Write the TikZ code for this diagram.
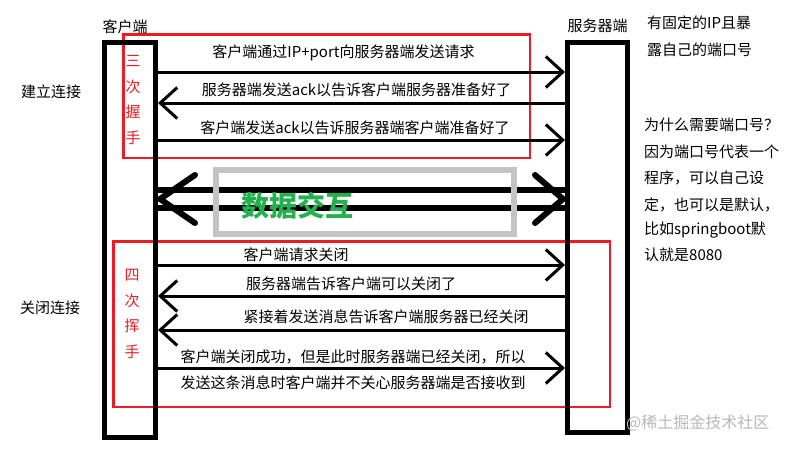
\documentclass[tikz,border=0pt]{standalone}
\usepackage{fontspec}
\setmainfont{Noto Sans CJK SC}
\usetikzlibrary{arrows.meta,calc}
\definecolor{pred}{RGB}{237,28,36}
\definecolor{pgreen}{RGB}{34,177,76}
\definecolor{pgray}{RGB}{195,195,195}
\begin{document}
\begin{tikzpicture}[x=1pt,y=-1pt,
  every node/.style={inner sep=0pt, font=\fontsize{15}{18}\selectfont},
  hostbox/.style={draw=black, line width=5pt},
  redbox/.style={draw=pred, line width=2.5pt},
  msg/.style={line width=3pt, -{Straight Barb[length=17pt,width=31pt]}},
  redtxt/.style={text=pred, align=center, font=\fontsize{15}{25.5}\selectfont},
  fat/.style={line width=6pt},
  chev/.style={line width=6pt, line cap=round, line join=round},
  side/.style={anchor=west},
  wm/.style={text=black!28, font=\fontsize{16}{18}\selectfont}
]
\fill[white] (0,0) rectangle (790,450);
\useasboundingbox (0,0) rectangle (790,450);

% red frames
\node[redbox, minimum width=406.5pt, minimum height=123.5pt] (r1) at (326.5,96) {};
\node[redbox, minimum width=496.5pt, minimum height=165.5pt] (r2) at (361.5,324) {};

% hosts
\node[hostbox, minimum width=51pt, minimum height=395pt] (c) at (130,240) {};
\node[hostbox, minimum width=60pt, minimum height=390pt] (s) at (597.5,237.5) {};
\node (ct) at (125,27) {客户端};
\node (st) at (597.5,26) {服务器端};

% message levels
\coordinate (a1) at (0,72);
\coordinate (a2) at (0,103);
\coordinate (a3) at (0,140);
\coordinate (b1) at (0,265);
\coordinate (b2) at (0,296);
\coordinate (b3) at (0,330);
\coordinate (b4) at (0,368);
\coordinate (d1) at (0,190);
\coordinate (d2) at (0,208);
\coordinate (dm) at (0,199);

% three-way handshake
\draw[msg] (c.east |- a1) -- (s.west |- a1);
\draw[msg] (s.west |- a2) -- (c.east |- a2);
\draw[msg] (c.east |- a3) -- (s.west |- a3);
\node (t1) at (343.5,53) {客户端通过IP+port向服务器端发送请求};
\node (t2) at (356.5,90) {服务器端发送ack以告诉客户端服务器准备好了};
\node (t3) at (355,128) {客户端发送ack以告诉服务器端客户端准备好了};
\node[redtxt] (h3) at (133,100) {三\\次\\握\\手};

% data exchange
\draw[fat] (c.east |- d1) -- (s.west |- d1);
\draw[fat] (c.east |- d2) -- (s.west |- d2);
\draw[chev] (c.east |- dm) ++(37,-24) -- ($(c.east |- dm)+(2,0)$) -- ++(35,24);
\draw[chev] (s.west |- dm) ++(-30,-24) -- ($(s.west |- dm)+(-2,0)$) -- ++(-28,24);
\node[draw=pgray, line width=6pt, minimum width=298pt, minimum height=64pt] (g) at (365,202) {};
\node[text=pgreen, font=\fontsize{28}{30}\selectfont\bfseries] (dx) at (297,206) {数据交互};

% four-way handshake
\draw[msg] (c.east |- b1) -- (s.west |- b1);
\draw[msg] (s.west |- b2) -- (c.east |- b2);
\draw[msg] (s.west |- b3) -- (c.east |- b3);
\draw[msg] (c.east |- b4) -- (s.west |- b4);
\node (u1) at (296,255) {客户端请求关闭};
\node (u2) at (351,284) {服务器端告诉客户端可以关闭了};
\node (u3) at (386,317) {紧接着发送消息告诉客户端服务器已经关闭};
\node (u4) at (353,357) {客户端关闭成功，但是此时服务器端已经关闭，所以};
\node (u5) at (353,383) {发送这条消息时客户端并不关心服务器端是否接收到};
\node[redtxt] (h4) at (132,314) {四\\次\\挥\\手};

% left labels
\node (l1) at (51,92) {建立连接};
\node (l2) at (50,308) {关闭连接};

% right notes
\node[side] (n1) at (647,23) {有固定的IP且暴};
\node[side] (n2) at (647,50) {露自己的端口号};
\node[side] (q1) at (644,125) {为什么需要端口号？};
\node[side] (q2) at (644,152) {因为端口号代表一个};
\node[side] (q3) at (644,178) {程序，可以自己设};
\node[side] (q4) at (644,205) {定，也可以是默认，};
\node[side] (q5) at (644,230) {比如springboot默};
\node[side] (q6) at (644,255) {认就是8080};

% watermark
\node[wm, anchor=west] (w) at (626,423) {@稀土掘金技术社区};
\end{tikzpicture}
\end{document}
